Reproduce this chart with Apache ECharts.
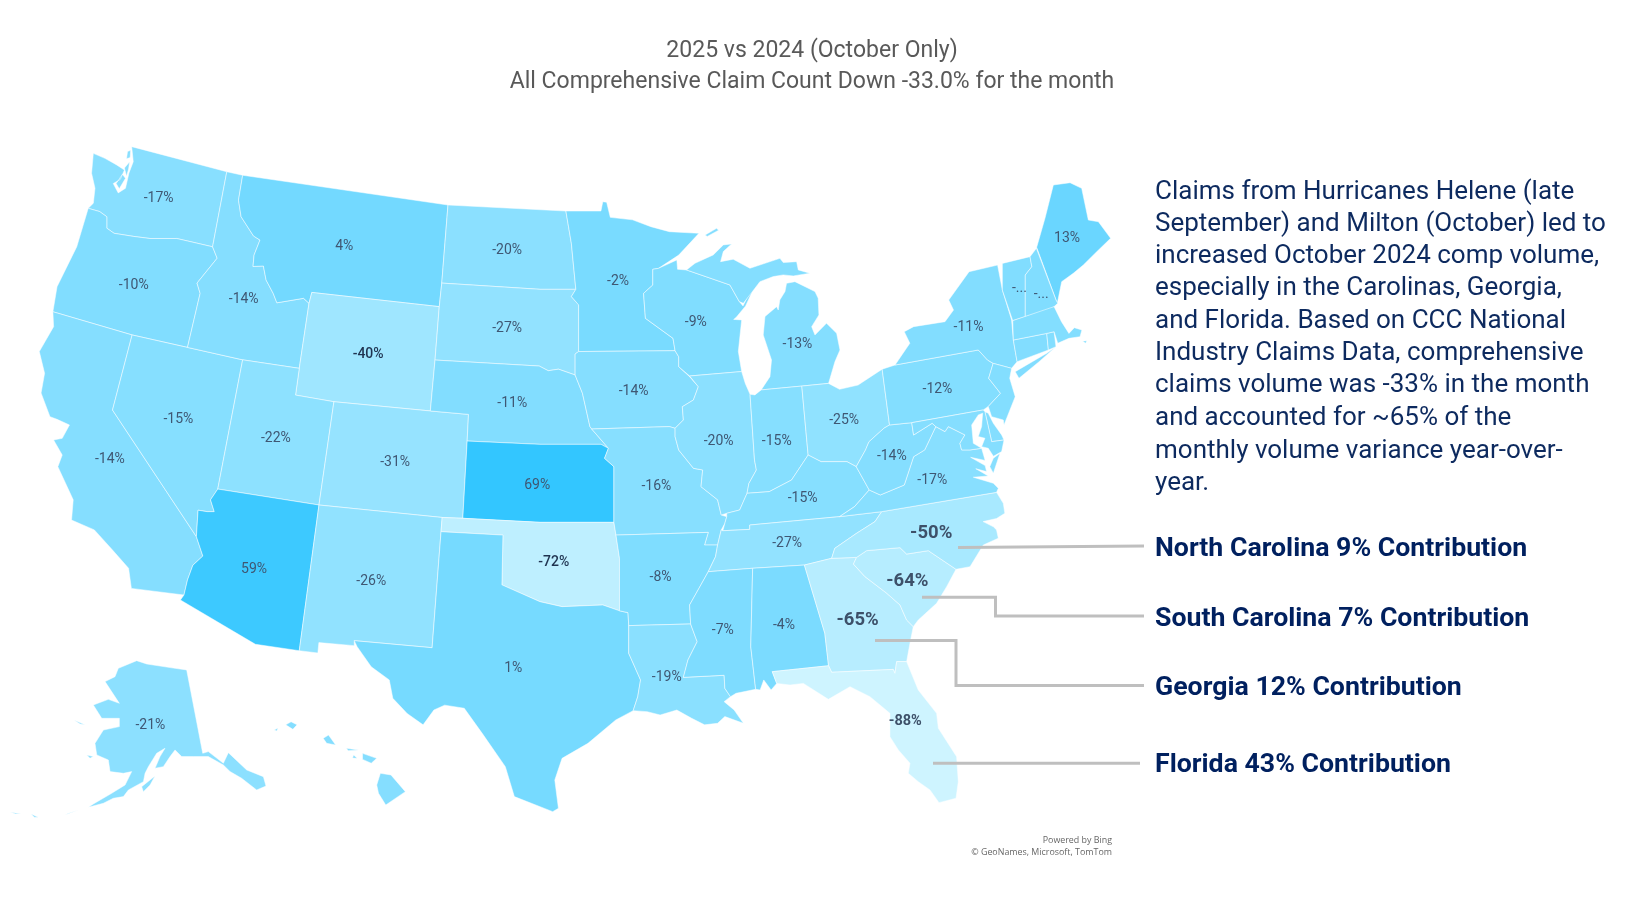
<!DOCTYPE html>
<html><head><meta charset="utf-8">
<script src="https://cdn.jsdelivr.net/npm/echarts@6/dist/echarts.min.js"></script>
<style>html,body{margin:0;padding:0;background:#fff}#c{width:1626px;height:916px}</style>
</head><body><div id="c"></div>
<script>
// ---- chart values ----
const stateNames = ['Washington','Oregon','California','Nevada','Idaho','Montana','Wyoming','Utah','Colorado','Arizona','New Mexico','North Dakota','South Dakota','Nebraska','Kansas','Oklahoma','Texas','Minnesota','Iowa','Missouri','Arkansas','Louisiana','Wisconsin','Illinois','Michigan','Indiana','Ohio','Kentucky','Tennessee','Mississippi','Alabama','Georgia','South Carolina','North Carolina','Florida','Virginia','West Virginia','Pennsylvania','New York','Maine','Alaska','Vermont','New Hampshire','New Jersey','Delaware','Maryland','Connecticut','Rhode Island','Massachusetts','Hawaii'];
const stateValues = [-17,-10,-14,-15,-14,4,-40,-22,-31,59,-26,-20,-27,-11,69,-72,1,-2,-14,-16,-8,-19,-9,-20,-13,-15,-25,-15,-27,-7,-4,-65,-64,-50,-88,-17,-14,-12,-11,13,-21,-10,-10,-12,-13,-14,-11,-12,-12,-14];
const stateLabels = ['-17%','-10%','-14%','-15%','-14%','4%','-40%','-22%','-31%','59%','-26%','-20%','-27%','-11%','69%','-72%','1%','-2%','-14%','-16%','-8%','-19%','-9%','-20%','-13%','-15%','-25%','-15%','-27%','-7%','-4%','-65%','-64%','-50%','-88%','-17%','-14%','-12%','-11%','13%','-21%','-...','-...','','','','','','',''];
const strongStates = ['Georgia','South Carolina','North Carolina'];
const mediumStates = ['Florida'];
const darkStates = ['Wyoming','Oklahoma'];
const titleLines = ['2025 vs 2024 (October Only)','All Comprehensive Claim Count Down -33.0% for the month'];
const noteLines = ['Claims from Hurricanes Helene (late','September) and Milton (October) led to','increased October 2024 comp volume,','especially in the Carolinas, Georgia,','and Florida. Based on CCC National','Industry Claims Data, comprehensive','claims volume was -33% in the month','and accounted for ~65% of the','monthly volume variance year-over-','year.'];
const contributionLines = ['North Carolina 9% Contribution','South Carolina 7% Contribution','Georgia 12% Contribution','Florida 43% Contribution'];
const creditLines = ['Powered by Bing','© GeoNames, Microsoft, TomTom'];

// ---- base map outlines (map units) ----
const outlines = {
Washington:[[90,147.9,101.2,152.7,112.5,159,120,164,116,173,109.2,177,114,186,121,181.6,124.3,167,128.5,155.9,127,141.4,218.7,165.6,205,238,170.5,230,144.6,230,129,228,110,225,103,220,103,209,96,204,85.1,200.9,90,196,91.6,181.6,88.3,167],[112,177,118,168,121,172,115,182],[120,162,125,156,124,163,122,170],[123,146,126,145,125.5,152,122,153]],
Oregon:[[85.1,200.9,96,204,103,209,103,220,110,225,129,228,144.6,230,170.5,230,205,238,209.4,249,190,273,193,282.9,180.8,335,127.4,323,51,300.6,55,276.5,74,238]],
California:[[51,300.6,127.4,323,108.5,395.4,189.4,517.5,195.6,536.2,186,545,180.8,559.3,177.4,573.8,126.7,567.4,124,548,108.5,530.4,91,511,69,501.5,70.6,482,55.8,450,60,438.8,51.7,424.3,60,422.7,67,409.8,55,404.4,48.2,401.8,39.6,379,43,360,37.9,339,51.7,315]],
Nevada:[[127.4,323,180.8,335,234,347,210,471.6,203,482,206.6,493.4,199.8,493.4,191,492,189.4,517.5,108.5,395.4]],
Idaho:[[218.7,165.6,234,169,230,193,232.5,209,244.5,227.6,250.7,231.5,245,246,244,257,254,256.5,256.6,270,263.5,283,267,292,292.7,287.7,298,292.5,288.6,355.2,234,347,180.8,335,193,282.9,190,273,209.4,249,205,238]],
Montana:[[234,169,432,197.7,426,273,423.6,295.7,300.7,282,298,292.5,292.7,287.7,267,292,263.5,283,256.6,270,254,256.5,244,257,245,246,250.7,231.5,244.5,227.6,232.5,209,230,193]],
Wyoming:[[300.7,282,423.6,295.7,419.5,347.2,415,396.3,322,387.4,285,381,288.6,355.2,298,292.5]],
Utah:[[234,347,288.6,355.2,285,381,322,387.4,307.6,487,210,471.6]],
Colorado:[[322,387.4,415,396.3,451.8,399.6,450.5,425.3,446.3,499.8,426.4,499,307.6,487]],
Arizona:[[210,471.6,307.6,487,288.6,627.5,246.3,621.3,174,578.6,177.4,573.8,180.8,559.3,186,545,195.6,536.2,189.4,517.5,191,492,199.8,493.4,206.6,493.4,203,482]],
'New Mexico':[[307.6,487,426.4,499,425.3,512.7,416.7,624.6,341.6,617.8,341.6,622.6,307.5,619.7,306.5,629.7,288.6,627.5]],
'North Dakota':[[432,197.7,545.7,203.5,551,234.7,555.3,279,520.7,279,426,273]],
'South Dakota':[[426,273,520.7,279,555.3,279,551,286,558,294,558,339,554.6,341.4,554.6,361.6,538.5,356,528.7,357.5,520,353,419.5,347.2,423.6,295.7]],
Nebraska:[[419.5,347.2,520,353,528.7,357.5,538.5,356,554.6,361.6,561.7,379.3,568.9,411.4,570.6,413.7,586.7,432.3,579.6,428.5,520.7,428.5,450.5,425.3,451.8,399.6,415,396.3]],
Kansas:[[450.5,425.3,520.7,428.5,579.6,428.5,586.7,432.3,583,442,592,450,592,503.7,520.7,503.7,446.3,499.8]],
Oklahoma:[[426.4,499,446.3,499.8,520.7,503.7,592,503.7,594,516,597.4,538.4,597.4,589,581.3,583.4,542,585,520.7,580.2,484,564,485,516,425.3,512.7]],
Texas:[[425.3,512.7,485,516,484,564,520.7,580.2,542,585,581.3,583.4,597.4,589,605.6,590.8,606.3,602.7,606.3,630,617.7,655.7,615,671.8,610.6,685.3,593.8,694.3,567,716.8,542,731.3,535,752.2,538.5,779.5,533,782.7,496,768.2,487.3,739.3,465,707.2,447.7,683,428.8,680,418.4,684.7,408,699,392.6,688,378.8,673.4,375.4,655.7,358,643,344.4,623.6,341.6,617.8,416.7,624.6]],
Minnesota:[[545.7,203.5,579.5,203.5,581.3,194.5,585,195,588.5,209.6,610,212,627.7,218.6,645.5,223.4,674,225,654.5,246,635,258.8,629.5,259.7,629.5,274.9,620.6,282.9,622.4,307,649,326.3,651,338.2,558,339,558,294,551,286,555.3,279,551,234.7]],
Iowa:[[558,339,651,338.2,654.5,344,654.5,353.6,665,363.2,673.4,372.9,668.7,385.7,658,392.2,659,405,651,413,645.5,411.4,570.6,413.7,568.9,411.4,561.7,379.3,554.6,361.6,554.6,341.4]],
Missouri:[[570.6,413.7,645.5,411.4,651,413,651,421,654.5,434,668.7,451.6,677.6,453.2,676,469.3,692,482,695.5,496.6,700.8,498.3,699,504.7,695.5,511,692,525.6,679.4,525.6,683,513.4,594,516,592,503.7,592,450,583,442,586.7,432.3]],
Arkansas:[[594,516,683,513.4,679.4,525.6,692,525.6,690,536.8,683,551.3,674,567.4,665,583.4,666,601.7,606.3,603.3,605.6,590.8,597.4,589,597.4,538.4]],
Louisiana:[[606.3,603.3,666,601.7,672.3,618.8,663.4,636.5,659,653.2,698.3,651.2,699,663.8,704.4,671.8,698.3,676.6,708,684.7,716.9,697.5,699,691,692,697.5,679.4,699,667,692.7,652.7,684.7,636.6,689.5,624.1,686.3,610.6,685.3,615,671.8,617.7,655.7,606.3,630]],
Wisconsin:[[629.5,259.7,635,258.8,652.7,250.7,653.4,259.7,662,260.3,703.9,274.8,712.9,290.8,716.5,295,722,284,721,276,726,280,719,295,710,306,707.5,308,715.2,308.5,712,339,715.2,358.3,665,362.6,654.5,353.6,654.5,344,651,338.2,649,326.3,622.4,307,620.6,282.9,629.5,274.9]],
Illinois:[[665,362.6,715.2,358.3,718.7,369.7,723.3,380.3,727.6,443.6,729.4,453.2,722.2,466.2,720.4,475.7,713.3,491.8,700.8,495,695.5,496.6,692,482,676,469.3,677.6,453.2,668.7,451.6,654.5,434,651,421,651,413,659,405,658,392.2,668.7,385.7,673.4,372.9]],
Michigan:[[734,376,773.2,372.3,799,369.7,805.2,348.7,810,337.5,806.8,321.4,797,311.7,785.9,323,782.7,315,789.7,303.7,789,287.6,785.9,281.2,766.6,271.6,758.5,273.2,757,281.2,752,289.2,750.5,298.9,748.9,295.7,737.7,305.3,736,323,744,347.1,742.5,363.2],[662,260.3,670.2,253.9,687.8,245.8,697.5,236.2,705.5,235.2,697.5,242.6,694.9,252.3,707.1,250,723.2,258.7,752.1,249.1,755.3,253.2,768.2,252.3,769.8,260.3,781,263.5,765,266.1,755.3,265.1,745.7,266.7,732.8,271.6,728,278,716.8,292.5,712.9,290.8,703.9,274.8],[680,226.6,691,220.2,693,222,682,228]],
Indiana:[[723.3,380.3,728,380.8,734,376,773.2,372.3,779.3,438.8,763.3,462.9,741.8,474.1,720.4,475.7,722.2,466.2,729.4,453.2,727.6,443.6]],
Ohio:[[773.2,372.3,799,369.7,809.6,375.4,827.5,371.3,850.7,356,857.8,409.8,852.4,413,838,426,834.6,434,825.7,450,816.8,445.2,791.8,445.2,779.3,438.8]],
Kentucky:[[700.8,495,713.3,491.8,720.4,475.7,741.8,474.1,763.3,462.9,779.3,438.8,791.8,445.2,816.8,445.2,825.7,450,838.2,472.5,824,488.6,809.6,498.2,723,506.3,723,510.5,697,511.8,699,504.7,700.8,498.3]],
Tennessee:[[697,511.8,723,510.5,723,506.3,809.6,498.2,850.2,493.4,843.8,503,826,514.3,805,528.8,802,538.4,775.7,544.9,725.8,548,683,551.3,690,536.8,692,525.6,695.5,511]],
Mississippi:[[683,551.3,725.8,548,724,623.6,728.7,664.7,709.8,668.6,704.4,671.8,699,663.8,698.3,651.2,659,653.2,663.4,636.5,672.3,618.8,666,601.7,665,583.4,674,567.4]],
Alabama:[[725.8,548,775.7,544.9,795.4,610.7,799,642,744.7,647.7,749,659,743.6,665.4,736.5,655.7,733,665.4,728.7,664.7,724,623.6]],
Georgia:[[775.7,544.9,802,538.4,826,537.5,823,544,834,556,855,572,867.9,583.4,874.3,597.9,880.7,604.3,877.5,620.4,874.3,638,864.7,638,863,649.3,861.4,645.5,802,648.3,799,642,795.4,610.7]],
'South Carolina':[[823,544,826,537.5,835.7,531,867.9,528.1,874.3,534.3,895.2,531,921.9,549,912.9,565.7,903.2,581.8,885.5,597.9,880.7,604.3,874.3,597.9,867.9,583.4,855,572,834,556]],
'North Carolina':[[850.2,493.4,961,474.8,967.5,485.4,969,495,961,500,948,503,958,508,961,511,962.7,519,948.2,525.6,935.4,546.5,921.9,549,895.2,531,874.3,534.3,867.9,528.1,835.7,531,826,537.5,802,538.4,805,528.8,826,514.3,843.8,503]],
Florida:[[744.7,647.7,799,642,802,648.3,861.4,645.5,863,649.3,864.7,638,874.3,638,885.5,665.4,903.2,687.9,904.9,702.3,922.5,729.7,924.1,753.8,921.9,769.8,905.5,774,896.8,761.8,885.5,753.8,875.9,745.7,877.5,736,866.3,723.2,858.2,710.4,858.2,687.9,838.9,671.8,819.7,662.2,798.8,674.4,774.7,659,761.8,660.6,749,659]],
Virginia:[[809.6,498.2,824,488.6,838.2,472.5,848.9,477.3,872,467.7,881,440.4,891.7,433.9,902.4,411.4,911.3,416.2,914.5,411.4,930.5,419.4,925.7,427.5,927.3,433.9,935.4,433.9,946.6,432.3,950,444,936,441,950,449,951.4,454.8,941,452,953,459,938.6,460.2,957.9,466,962.7,470.9,961,474.8,850.2,493.4],[964.3,437.1,957.9,456.4,954.5,450,957.9,441.9]],
'West Virginia':[[838.2,472.5,825.7,450,834.6,434,838,426,852.4,413,857.8,409.8,879.2,407.6,881,419.5,898.9,408.2,902.4,411.4,891.7,433.9,881,440.4,872,467.7,848.9,477.3]],
Pennsylvania:[[850.7,356,863.1,352,943.4,337.5,952.3,347.2,957.7,350.4,953.4,364.8,964.8,379.3,953,392,948.2,395.3,879.2,407.6,857.8,409.8]],
'New York':[[863.1,352,877.4,331,872,319.8,881,315,911.3,310.2,919.5,299,914.9,289.3,934.5,262,962,255.6,966.6,279.7,975.5,308.6,977.2,327.9,980.8,348.8,975.5,355.2,957.7,350.4,952.3,347.2,943.4,337.5],[979,358.4,1009.4,340.7,1018.3,334.3,1002,348.8,982.6,364.8]],
'New Jersey':[[957.7,350.4,975.5,355.2,973.7,364.8,979,382.5,968.2,409.8,967.5,405,956.3,401.8,953,392,964.8,379.3,953.4,364.8]],
Delaware:[[949.8,397,953,398.5,957.9,408.2,965.9,419.4,968.2,424.3,956.3,425.9]],
Maryland:[[879.2,407.6,948.2,395.3,949.8,397,956.3,425.9,968.2,424.3,965.9,435.5,958,440,953,432.3,946.6,430.7,949.8,422.6,943.4,421,946.6,411.4,947.6,398.5,943.4,400.1,937,409.8,938.6,427.5,946.6,432.3,935.4,433.9,927.3,433.9,925.7,427.5,930.5,419.4,914.5,411.4,911.3,416.2,902.4,411.4,898.9,408.2,881,419.5]],
Connecticut:[[977.2,327.9,1009.4,321.5,1011,337.5,980.8,348.8]],
'Rhode Island':[[1009.4,321.5,1016.5,319.9,1018.3,334.3,1011,337.5]],
Massachusetts:[[976.6,309.2,1016.5,295.7,1023.6,310.2,1030.8,321.5,1036,316,1043.3,318.2,1041.5,324.7,1030.8,326.3,1020,331,1016.5,319.9,1009.4,321.5,977.2,327.9],[1044,329,1048,328.5,1047,331]],
Vermont:[[966.6,254,993.3,247.5,995,257.2,988.7,265.2,988.7,305.4,976.6,309.2,966.6,279.7]],
'New Hampshire':[[993.3,247.5,999.4,239.5,1018.3,289.3,1020,292.5,1012.9,299,988.7,305.4,988.7,265.2,995,257.2]],
Maine:[[999.7,238.5,1007.7,210.5,1015.8,178.4,1031.9,176.2,1043.1,181.6,1049.5,212.2,1059.2,213.8,1071,229.8,1057.6,242.7,1044.7,255.5,1035,263.6,1023.8,271.6,1019.6,292.5]],
Alaska:[[180,646,195.5,726.4,200.9,724.8,215.4,736,220.2,725.8,237.9,742.5,254,749,256.5,758,247.5,761.8,233,750.5,221.8,744,215.4,737.7,200.9,729.6,186.5,729.6,175.2,729.6,168.8,723.2,164,729.6,157.5,739.3,149.5,740.9,154.3,729.6,159.1,721.6,151.1,726.4,143.1,739.3,139.9,745.7,138.3,753.8,123.8,761.8,119,768.2,109.3,769.8,99.7,774.6,85.2,778.5,90,775.3,107.7,765,120.6,757,127,744.1,119,745.7,106.1,744.1,104.5,732.9,93.3,728,91.6,716.8,99.7,704,115.1,700.7,115.1,692.7,98.1,692.7,90,679.8,104.5,674.4,115.1,678.2,101.3,657.3,110.9,652.5,114.1,644.5,131.8,637.1,141.5,640.3,168.8,644.5],[136.6,758.6,149.5,748.3,144.7,757,138.3,763.4],[83.6,728,90,729.6,86.8,731.3],[71.4,694.3,82,699,77.2,698.2],[62.7,786,75.6,781,66,784.3],[30,785,37,788,33,788],[10,783,20,785,15,785]],
Hawaii:[[366.8,745.7,377,747.3,390.9,763.4,372,776.3,365,765,363.3,757],[349.6,726.5,363.3,731.3,358,736,349.6,732.3],[334,721.6,346,723.2,335.8,723.9],[341,728,344.4,731.3,340,731],[311.7,712,316.8,708.8,323.7,718.4,315,716.8],[275.5,699,280.7,696,286.5,699,282.4,703.3],[264.5,704,268,702,267,705]]
};
const labelAnchors = {Washington:[153,190],Oregon:[129,274],California:[106,442],Nevada:[172,403],Idaho:[235,287],Montana:[332,236],Wyoming:[355,340],Utah:[266,421],Colorado:[381,445],Arizona:[245,548],'New Mexico':[358,559],'North Dakota':[489,240],'South Dakota':[489,315],Nebraska:[494,388],Kansas:[518,467],Oklahoma:[534,541],Texas:[495,643],Minnesota:[596,270],Iowa:[611,376],Missouri:[633,468],Arkansas:[637,555],Louisiana:[643,652],Wisconsin:[671,310],Illinois:[693,424],Michigan:[769,331],Indiana:[749,424],Ohio:[814,404],Kentucky:[774,479],Tennessee:[759,523],Mississippi:[697,607],Alabama:[756,602],Georgia:[827,597],'South Carolina':[875,559],'North Carolina':[898,513],Florida:[873,694],Virginia:[899,462],'West Virginia':[860,439],Pennsylvania:[904,374],'New York':[934,314],Maine:[1029,229],Alaska:[145,698],Vermont:[983,277],'New Hampshire':[1004,283]};

const toRing = flat => { const r=[]; for(let i=0;i<flat.length;i+=2) r.push([flat[i],-flat[i+1]]); r.push(r[0]); return r; };
const usa = {type:'FeatureCollection',features:stateNames.map(n=>({type:'Feature',properties:{name:n,cp:labelAnchors[n]?[labelAnchors[n][0],-labelAnchors[n][1]]:undefined},geometry:{type:'MultiPolygon',coordinates:outlines[n].map(f=>[toRing(f)])}}))};
echarts.registerMap('usa',usa);

const FONT='Roboto';
const W=1626,H=916,MW=1568,MH=916*1568/1626;
const labelStyle = n => strongStates.includes(n) ? {fontSize:18.5,fontWeight:'bold',color:'#3d5069'}
  : mediumStates.includes(n) ? {fontSize:14.5,fontWeight:'bold',color:'#3d5069'}
  : darkStates.includes(n) ? {fontSize:14,fontWeight:500,color:'#1f3350'}
  : {fontSize:14,fontWeight:400,color:'#3f5773'};
const seriesData = stateNames.map((n,i)=>({name:n,value:stateValues[i],label:Object.assign({show:stateLabels[i]!=='',formatter:stateLabels[i]},labelStyle(n))}));

const graphics=[];
const txt=(s,x,y,st)=>graphics.push({type:'text',z:100,x,y,style:Object.assign({text:s,fontFamily:FONT,verticalAlign:'middle'},st)});
const line=pts=>graphics.push({type:'polyline',z:90,shape:{points:pts},style:{stroke:'#bfbfbf',lineWidth:3,fill:null}});
titleLines.forEach((s,i)=>txt(s,812,[51.5,82.5][i],{fontSize:23,fill:'#595959',align:'center'}));
const noteY=[192,224,256,288,321.5,353.5,385.5,418,451,483];
noteLines.forEach((s,i)=>txt(s,1155,noteY[i],{fontSize:26,fill:'#0d2a5f'}));
const contY=[549.5,619,688.5,765];
contributionLines.forEach((s,i)=>txt(s,1155,contY[i],{fontSize:26.7,fontWeight:'bold',fill:'#00205f'}));
line([[958,547.5],[1144,546]]);
line([[922,597.3],[995.5,597.3],[995.5,616],[1144,616]]);
line([[875,640.4],[956,640.4],[956,685.4],[1144,685.4]]);
line([[933,763.2],[1140,763.2]]);
creditLines.forEach((s,i)=>txt(s,1112,[840,852.5][i],{fontSize:8.9,fill:'#666',align:'right',fontFamily:'Open Sans'}));

const chart=echarts.init(document.getElementById('c'),null,{renderer:'canvas'});
chart.setOption({
  animation:false,backgroundColor:'#fff',
  visualMap:{show:false,type:'continuous',min:-88,max:69,seriesIndex:0,inRange:{color:['#cef4ff','#33c6ff']}},
  graphic:graphics,
  series:[{type:'map',map:'usa',roam:false,aspectScale:1,silent:true,
    boundingCoords:[[0,0],[MW,-MH]],left:0,top:0,width:W,height:H,
    itemStyle:{borderColor:'#ffffff',borderWidth:0.5},
    label:{show:true,fontFamily:FONT,offset:[0,1.5]},
    emphasis:{disabled:true},select:{disabled:true},
    data:seriesData}]
});
</script></body></html>
